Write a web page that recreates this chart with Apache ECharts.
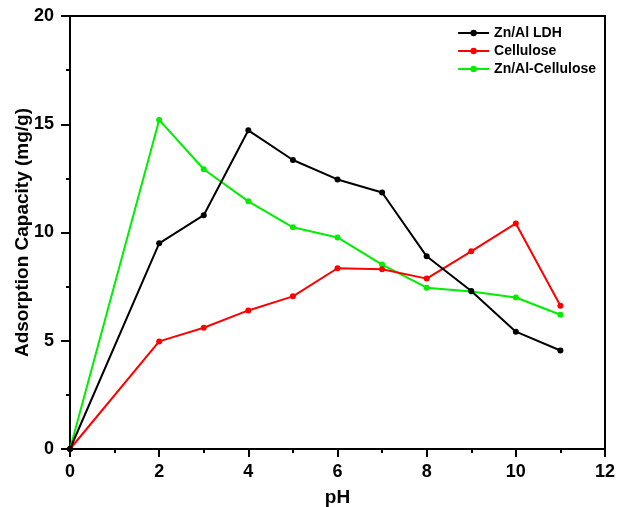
<!DOCTYPE html>
<html>
<head>
<meta charset="utf-8">
<script src="https://cdn.jsdelivr.net/npm/echarts@6/dist/echarts.min.js"></script>
<style>
  html, body { margin: 0; padding: 0; background: #fff; }
  #main { width: 618px; height: 507px; }
</style>
</head>
<body>
<div id="main"></div>
<script>
// pH values
var phValues = [0, 2, 3, 4, 5, 6, 7, 8, 9, 10, 11];
// adsorption capacity (mg/g)
var znAlLdh = [0, 9.5, 10.8, 14.72, 13.35, 12.45, 11.85, 8.9, 7.3, 5.42, 4.55];
var cellulose = [0, 4.97, 5.6, 6.4, 7.05, 8.35, 8.3, 7.87, 9.13, 10.42, 6.62];
var znAlCellulose = [0, 15.2, 12.92, 11.44, 10.24, 9.77, 8.52, 7.45, 7.27, 7.0, 6.2];

var seriesNames = ['Zn/Al LDH', 'Cellulose', 'Zn/Al-Cellulose'];
var seriesColors = ['#000000', '#ff0000', '#00ee00'];
var seriesData = [znAlLdh, cellulose, znAlCellulose];

function pairs(ys) {
  return phValues.map(function (x, i) { return [x, ys[i]]; });
}

var font = 'Liberation Sans, Arial, sans-serif';
var chart = echarts.init(document.getElementById('main'));

var series = seriesNames.map(function (name, i) {
  return {
    name: name,
    type: 'line',
    data: pairs(seriesData[i]),
    symbol: 'circle',
    symbolSize: 6,
    showSymbol: true,
    lineStyle: { width: 2, color: seriesColors[i] },
    itemStyle: { color: seriesColors[i] },
    z: 3 - i
  };
});

chart.setOption({
  animation: false,
  backgroundColor: '#fff',
  grid: {
    left: 70, right: 13, top: 16, bottom: 58,
    outerBoundsMode: 'none', containLabel: false,
    show: true, borderColor: '#000', borderWidth: 2
  },
  legend: {
    orient: 'vertical',
    right: 17,
    top: 21,
    itemWidth: 31,
    itemHeight: 8,
    itemGap: 4,
    textStyle: { fontFamily: font, fontWeight: 'bold', fontSize: 14, color: '#000' },
    data: seriesNames
  },
  xAxis: {
    type: 'value',
    min: 0, max: 12, interval: 2,
    name: 'pH',
    nameLocation: 'middle',
    nameGap: 39,
    nameMoveOverlap: false,
    nameTextStyle: { fontFamily: font, fontWeight: 'bold', fontSize: 19, color: '#000' },
    axisLine: { show: true, onZero: false, lineStyle: { color: '#000', width: 2 } },
    axisTick: { show: true, inside: false, length: 8, lineStyle: { width: 2, color: '#000' } },
    minorTick: { show: true, splitNumber: 2, length: 4, lineStyle: { width: 2, color: '#000' } },
    axisLabel: { fontFamily: font, fontWeight: 'bold', fontSize: 18, color: '#000', margin: 14 },
    splitLine: { show: false }
  },
  yAxis: {
    type: 'value',
    min: 0, max: 20, interval: 5,
    name: 'Adsorption Capacity (mg/g)',
    nameLocation: 'middle',
    nameGap: 38,
    nameMoveOverlap: false,
    nameTextStyle: { fontFamily: font, fontWeight: 'bold', fontSize: 19, color: '#000' },
    axisLine: { show: true, onZero: false, lineStyle: { color: '#000', width: 2 } },
    axisTick: { show: true, inside: false, length: 9, lineStyle: { width: 2, color: '#000' } },
    minorTick: { show: true, splitNumber: 2, length: 4, lineStyle: { width: 2, color: '#000' } },
    axisLabel: { fontFamily: font, fontWeight: 'bold', fontSize: 18, color: '#000', margin: 16 },
    splitLine: { show: false }
  },
  series: series
});
</script>
</body>
</html>
